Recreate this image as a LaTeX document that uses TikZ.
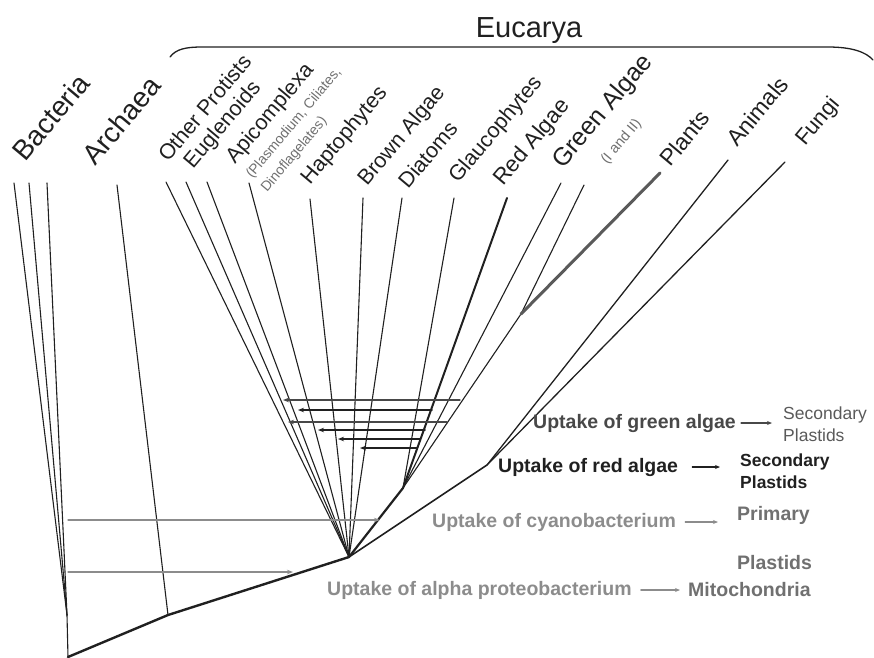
\documentclass[tikz,border=0pt]{standalone}
\usepackage{fontspec}
\setmainfont{Liberation Sans}
\usetikzlibrary{arrows.meta}
\definecolor{ink}{HTML}{202020}
\definecolor{greenink}{HTML}{484848}
\definecolor{plastidgrey}{HTML}{5A5A5A}
\definecolor{paleink}{HTML}{8C8C8C}
\definecolor{notegrey}{HTML}{707070}

\begin{document}
\begin{tikzpicture}[x=1pt, y=-1pt, >={Stealth[length=6pt,width=4.5pt]}, line cap=round,
	twig/.style={ink, line width=1.1pt},
	trunk/.style={ink, line width=2.4pt},
	taxon/.style={anchor=base west, inner sep=0pt, rotate=50, text=ink, font=\fontsize{21.5}{24}\selectfont},
	bigtaxon/.style={taxon, font=\fontsize{28}{30}\selectfont},
	subnote/.style={taxon, text=notegrey, font=\fontsize{14}{16}\selectfont},
	uptake/.style={anchor=west, inner sep=0pt, font=\bfseries\fontsize{19.5}{22}\selectfont},
	product/.style={uptake, align=left, font=\bfseries\fontsize{17.5}{22.5}\selectfont},
	textarrow/.style={->, line width=1.2pt, >={Stealth[length=5pt,width=4pt]}}]
	\useasboundingbox (0,0) rectangle (874,657);
	% junctions
	\coordinate (root) at (68,657);
	\coordinate (bac) at (67,615);
	\coordinate (arc) at (168,615);
	\coordinate (euk) at (349,557);
	\coordinate (pla) at (403,488);
	\coordinate (grn) at (521,314);
	\coordinate (opi) at (487,465);
	% tips
	\foreach \n/\x/\y in {b1/14/183, b2/29/183, b3/47/183, tarc/117/185,
		top/166/182, teu/186/182, tap/207/182, tpl/249/183, tha/310/199, tbr/363/198, tdi/402/198,
		tgl/454/198, tred/507/198, tg1/561/183, tg2/584/185, tpln/660/173, tani/728/160, tfun/785/162}
		\coordinate (\n) at (\x,\y);
	% tree
	\foreach \n in {b1,b2,b3} \draw[twig] (bac) -- (\n);
	\draw[twig] (root) -- (bac);
	\draw[twig] (arc) -- (tarc);
	\foreach \n in {top,teu,tap,tpl,tha,tbr,tdi} \draw[twig] (euk) -- (\n);
	\draw[trunk] (root) -- (arc) -- (euk);
	\draw[ink, line width=2.2pt] (euk) -- (pla);
	\draw[ink, line width=1.6pt] (euk) -- (opi);
	\draw[twig] (pla) -- (tgl);
	\draw[ink, line width=2pt] (pla) -- (tred);
	\draw[twig] (pla) -- (tg1);
	\draw[twig] (pla) -- (grn) -- (tg2);
	\draw[plastidgrey, line width=3pt] (grn) -- (tpln);
	\draw[twig, line width=1.3pt] (opi) -- (tani);
	\draw[twig, line width=1.3pt] (opi) -- (tfun);
	% secondary uptakes
	\foreach \s/\e/\y/\c/\w in {460/283/400/greenink/1.3, 432/298/410/ink/1.6, 447/288/422/greenink/1.3,
		425/318/430/ink/1.6, 420/338/439/ink/1.6, 417/360/448/ink/1.6} {
		\coordinate (from\y) at (\s,\y);
		\coordinate (to\y) at (\e,\y);
		\draw[->, \c, line width=\w pt] (from\y) -- (to\y);
	}
	% primary uptakes
	\coordinate (cyano) at (68,520);
	\coordinate (cyanoend) at (380,520);
	\coordinate (alpha) at (68,572);
	\coordinate (alphaend) at (293,572);
	\draw[->, paleink, line width=1.2pt] (cyano) -- (cyanoend);
	\draw[->, paleink, line width=1.2pt] (alpha) -- (alphaend);
	% Eucarya brace
	\draw[ink, line width=1.3pt] (170,57) .. controls (176,49) and (186,47) .. (202,47) -- (828,47)
		.. controls (852,47) and (866,52) .. (873,60);
	\node[anchor=base, inner sep=0pt, text=ink, font=\fontsize{29}{32}\selectfont] (eucarya) at (529,37) {Eucarya};
	% labels
	\node[bigtaxon] (bacteria) at (25,163) {Bacteria};
	\node[bigtaxon] (archaea) at (95,167) {Archaea};
	\node[taxon] (protists) at (168,163) {Other Protists};
	\node[taxon] (euglenoids) at (193,170) {Euglenoids};
	\node[taxon] (apicomplexa) at (235,165) {Apicomplexa};
	\node[subnote] (plasmodium) at (252,179) {(Plasmodium, Ciliates,};
	\node[subnote] (dinoflag) at (267,193) {Dinoflagelates)};
	\node[taxon] (haptophytes) at (310,186) {Haptophytes};
	\node[taxon] (brown) at (367,187) {Brown Algae};
	\node[taxon] (diatoms) at (408,190) {Diatoms};
	\node[taxon] (glauco) at (458,184) {Glaucophytes};
	\node[taxon, font=\fontsize{22.5}{24}\selectfont] (red) at (503,187) {Red Algae};
	\node[taxon, font=\fontsize{25}{28}\selectfont] (green) at (563,170) {Green Algae};
	\node[subnote, font=\fontsize{14.5}{16}\selectfont] (iandii) at (607,165) {(I and II)};
	\node[taxon, font=\fontsize{23}{26}\selectfont] (plants) at (670,168) {Plants};
	\node[taxon, font=\fontsize{23}{26}\selectfont] (animals) at (737,148) {Animals};
	\node[taxon, font=\fontsize{22}{24}\selectfont] (fungi) at (805,147) {Fungi};
	% uptake texts
	\node[uptake, text=greenink] (upgreen) at (533,423) {Uptake of green algae};
	\node[product, text=plastidgrey, font=\fontsize{17.5}{22.5}\selectfont] (secgreen) at (783,424) {Secondary\\Plastids};
	\draw[textarrow, greenink, shorten <=5pt, shorten >=11pt] (upgreen.east) -- (upgreen.east -| secgreen.west);
	\node[uptake, text=ink] (upred) at (498,467) {Uptake of red algae};
	\node[product, text=ink] (secred) at (740,471) {Secondary\\Plastids};
	\draw[textarrow, ink, shorten <=14pt, shorten >=20pt] (upred.east) -- (upred.east -| secred.west);
	\node[uptake, text=paleink] (upcyano) at (432,522) {Uptake of cyanobacterium};
	\node[uptake, text=notegrey] (primary) at (737,515) {Primary};
	\node[uptake, text=notegrey] (plastids) at (737,563) {Plastids};
	\draw[textarrow, paleink, shorten <=9pt, shorten >=19pt] (upcyano.east) -- (upcyano.east -| primary.west);
	\node[uptake, text=paleink] (upalpha) at (327,590) {Uptake of alpha proteobacterium};
	\node[uptake, text=notegrey] (mito) at (688,590) {Mitochondria};
	\draw[textarrow, paleink, shorten <=9pt, shorten >=8pt] (upalpha.east) -- (mito.west);
\end{tikzpicture}
\end{document}
